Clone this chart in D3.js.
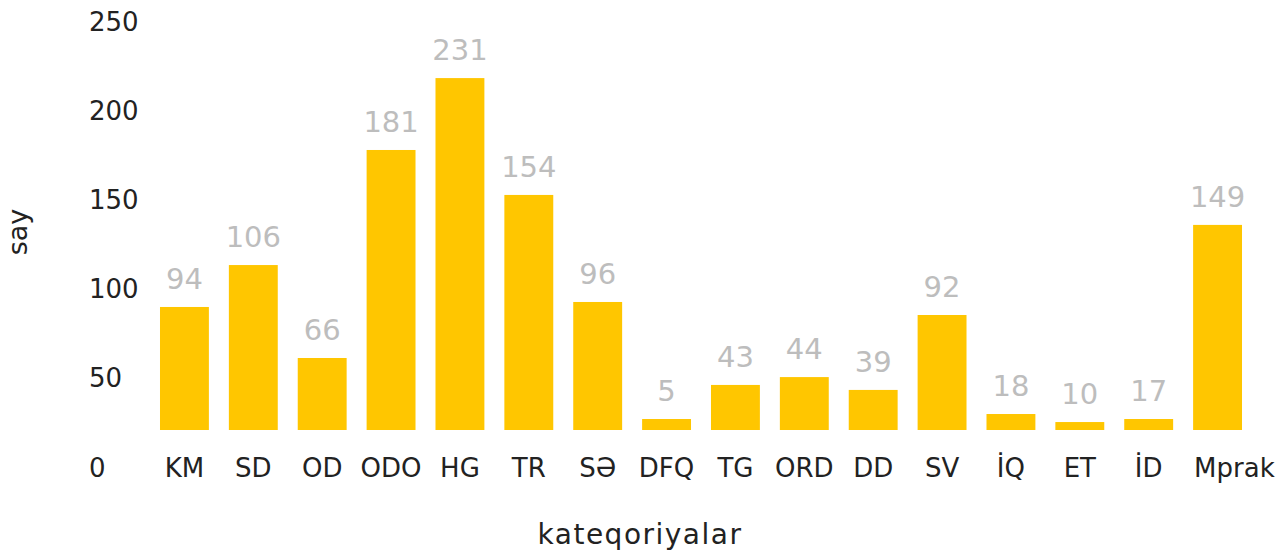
<!DOCTYPE html>
<html>
<head>
<meta charset="utf-8">
<script src="https://cdn.jsdelivr.net/npm/d3@7"></script>
<style>
  body { margin: 0; background: #fff; }
  svg { display: block; font-family: "DejaVu Sans", sans-serif; }
</style>
</head>
<body>
<svg id="chart"></svg>
<script>
// categories along the x axis
const categories = ["KM", "SD", "OD", "ODO", "HG", "TR", "SƏ", "DFQ", "TG", "ORD", "DD", "SV", "İQ", "ET", "İD", "Mprak"];
// numbers printed over the bars
const counts = [94, 106, 66, 181, 231, 154, 96, 5, 43, 44, 39, 92, 18, 10, 17, 149];
// bar tops as read against the y axis
const barHeights = [89.7, 113.2, 61.1, 177.7, 218.0, 152.5, 92.5, 26.9, 46.0, 50.4, 43.2, 85.2, 29.7, 25.2, 26.9, 135.7];
const yTicks = [0, 50, 100, 150, 200, 250];

const width = 1287,
  height = 553;
const plotBottom = 430;

const data = categories.map((c, i) => ({ cat: c, count: counts[i], h: barHeights[i] }));

const svg = d3.select("#chart").attr("width", width).attr("height", height);

const x = d3
  .scaleBand()
  .domain(categories)
  .range([150, 1252])
  .paddingInner(0.29)
  .paddingOuter(0.145);

const y = d3.scaleLinear().domain([0, 250]).range([467, 21]);

// y tick labels (no axis line)
svg
  .selectAll(".ytick")
  .data(yTicks)
  .enter()
  .append("text")
  .attr("class", "ytick")
  .attr("x", 89)
  .attr("y", d => y(d) + 9.5)
  .attr("font-size", 26)
  .attr("fill", "#222")
  .text(d => d);

// bars
svg
  .selectAll(".bar")
  .data(data)
  .enter()
  .append("rect")
  .attr("class", "bar")
  .attr("x", d => x(d.cat))
  .attr("width", x.bandwidth())
  .attr("y", d => y(d.h))
  .attr("height", d => plotBottom - y(d.h))
  .attr("fill", "#FFC600");

// value labels
svg
  .selectAll(".val")
  .data(data)
  .enter()
  .append("text")
  .attr("class", "val")
  .attr("x", d => x(d.cat) + x.bandwidth() / 2)
  .attr("y", d => y(d.h) - 18)
  .attr("text-anchor", "middle")
  .attr("font-size", 29)
  .attr("fill", "#BDBDBD")
  .text(d => d.count);

// x category labels (last one runs past the edge, so it starts at the bar)
const last = categories[categories.length - 1];
svg
  .selectAll(".xlab")
  .data(data)
  .enter()
  .append("text")
  .attr("class", "xlab")
  .attr("x", d => (d.cat === last ? x(d.cat) + 1 : x(d.cat) + x.bandwidth() / 2))
  .attr("y", 476.5)
  .attr("text-anchor", d => (d.cat === last ? "start" : "middle"))
  .attr("font-size", 26)
  .attr("fill", "#222")
  .text(d => d.cat);

// axis titles
svg
  .append("text")
  .attr("transform", "translate(27,232) rotate(-90)")
  .attr("text-anchor", "middle")
  .attr("font-size", 27)
  .attr("fill", "#222")
  .text("say");

svg
  .append("text")
  .attr("x", 640)
  .attr("y", 544)
  .attr("text-anchor", "middle")
  .attr("font-size", 28)
  .attr("letter-spacing", 1.5)
  .attr("fill", "#222")
  .text("kateqoriyalar");
</script>
</body>
</html>
